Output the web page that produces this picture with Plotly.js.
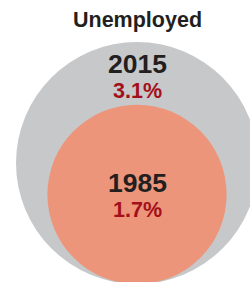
<!DOCTYPE html>
<html>
<head>
<meta charset="utf-8">
<script src="https://cdn.plot.ly/plotly-3.0.1.min.js"></script>
<style>
  html, body { margin: 0; padding: 0; background: #ffffff; }
  #chart { width: 250px; height: 282px; }
</style>
</head>
<body>
<div id="chart"></div>
<script>
// ---- data ----
const chartTitle = 'Unemployed';
const years = ['2015', '1985'];
const rates = [3.1, 1.7];            // percent unemployed
const rateLabels = ['3.1%', '1.7%'];

// ---- layout constants (pixels == data units) ----
const W = 250, H = 282;
const cx = 137;          // shared centre x
const baseY = 284;       // circles are bottom-aligned
const maxR = 121;        // radius of the largest circle
const fills = ['#c7c8ca', '#ec957a'];
const maxRate = Math.max.apply(null, rates);

const shapes = [];
const annotations = [{
  x: cx, y: 19.5, xref: 'x', yref: 'y', text: '<b>' + chartTitle + '</b>',
  showarrow: false, xanchor: 'center', yanchor: 'middle',
  font: {family: 'Liberation Sans, Arial, sans-serif', size: 21.5, color: '#231f20'}
}];

rates.forEach(function (v, i) {
  const r = maxR * Math.sqrt(v / maxRate);
  const cy = baseY - r;
  shapes.push({
    type: 'circle', xref: 'x', yref: 'y',
    x0: cx - r, x1: cx + r, y0: cy - r, y1: cy + r,
    fillcolor: fills[i], line: {width: 0}, layer: 'below'
  });
  // label position: near top for the outer circle, near centre for the inner one
  const yearY = (i === 0) ? (cy - r + 22) : (cy - 11);
  annotations.push({
    x: cx, y: yearY, xref: 'x', yref: 'y', text: '<b>' + years[i] + '</b>',
    showarrow: false, xanchor: 'center', yanchor: 'middle',
    font: {family: 'Liberation Sans, Arial, sans-serif', size: 26.5, color: '#231f20'}
  });
  annotations.push({
    x: cx, y: yearY + 26.5, xref: 'x', yref: 'y', text: '<b>' + rateLabels[i] + '</b>',
    showarrow: false, xanchor: 'center', yanchor: 'middle',
    font: {family: 'Liberation Sans, Arial, sans-serif', size: 21.5, color: '#a30f1a'}
  });
});

const layout = {
  width: W, height: H,
  margin: {l: 0, r: 0, t: 0, b: 0, pad: 0},
  paper_bgcolor: '#ffffff', plot_bgcolor: '#ffffff',
  xaxis: {range: [0, W], visible: false, fixedrange: true},
  yaxis: {range: [H, 0], visible: false, fixedrange: true},
  showlegend: false,
  shapes: shapes,
  annotations: annotations
};

Plotly.newPlot('chart', [{x: [], y: [], type: 'scatter', mode: 'markers', hoverinfo: 'skip'}], layout,
  {displayModeBar: false, staticPlot: true});
</script>
</body>
</html>
